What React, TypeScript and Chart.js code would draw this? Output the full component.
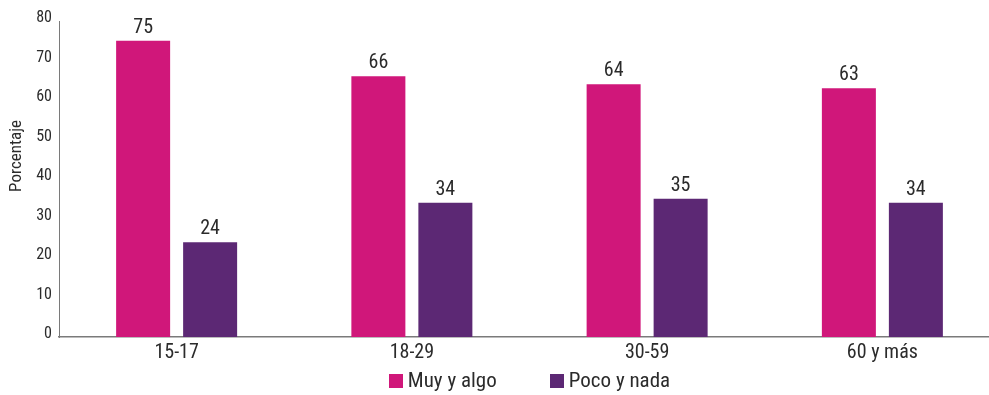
import React, { useEffect, useRef } from "react";
import { Chart, registerables } from "chart.js";

Chart.register(...registerables);

const categories = ["15-17", "18-29", "30-59", "60 y más"];
const muyYAlgo = [75, 66, 64, 63];
const pocoYNada = [24, 34, 35, 34];
const seriesNames = ["Muy y algo", "Poco y nada"];
const seriesColors = ["#D0177A", "#5C2874"];
const axisTitle = "Porcentaje";

const FONT = "'Roboto Condensed', 'Liberation Sans Narrow', 'DejaVu Sans Condensed', Roboto, sans-serif";
const TEXT = "#2b2b2b";

// Value labels above each bar
const valueLabels = {
  id: "valueLabels",
  afterDatasetsDraw(chart: any) {
    const ctx = chart.ctx;
    ctx.save();
    ctx.font = `20px ${FONT}`;
    ctx.fillStyle = TEXT;
    ctx.textAlign = "center";
    ctx.textBaseline = "alphabetic";
    chart.data.datasets.forEach((ds: any, i: number) => {
      const meta = chart.getDatasetMeta(i);
      meta.data.forEach((bar: any, j: number) => {
        ctx.fillText(String(ds.data[j]), bar.x, bar.y - 8);
      });
    });
    ctx.restore();
  },
};

// Rotated y-axis title and bottom legend
const decorations = {
  id: "decorations",
  afterDraw(chart: any) {
    const ctx = chart.ctx;
    const area = chart.chartArea;
    ctx.save();
    ctx.font = `17px ${FONT}`;
    ctx.fillStyle = TEXT;
    ctx.translate(17, 156);
    ctx.rotate(-Math.PI / 2);
    ctx.textAlign = "center";
    ctx.textBaseline = "middle";
    ctx.fillText(axisTitle, 0, 0);
    ctx.restore();

    ctx.save();
    ctx.font = `21px ${FONT}`;
    ctx.textBaseline = "middle";
    ctx.textAlign = "left";
    const box = 14;
    const gapText = 5;
    const gapItem = 53;
    const widths = seriesNames.map((n) => box + gapText + ctx.measureText(n).width);
    const total = widths.reduce((a, b) => a + b, 0) + gapItem * (widths.length - 1);
    let x = (area.left + area.right) / 2 - total / 2;
    const cy = 381;
    seriesNames.forEach((name, i) => {
      ctx.fillStyle = seriesColors[i];
      ctx.fillRect(Math.round(x), cy - box / 2, box, box);
      ctx.fillStyle = TEXT;
      ctx.fillText(name, x + box + gapText, cy + 1);
      x += widths[i] + gapItem;
    });
    ctx.restore();
  },
};

export default function App() {
  const ref = useRef<HTMLCanvasElement | null>(null);

  useEffect(() => {
    if (!ref.current) return;
    const chart = new Chart(ref.current, {
      type: "bar",
      data: {
        labels: categories,
        datasets: [
          {
            label: seriesNames[0],
            data: muyYAlgo,
            backgroundColor: seriesColors[0],
            categoryPercentage: 0.5696,
            barPercentage: 0.806,
          },
          {
            label: seriesNames[1],
            data: pocoYNada,
            backgroundColor: seriesColors[1],
            categoryPercentage: 0.5696,
            barPercentage: 0.806,
          },
        ],
      },
      options: {
        animation: false,
        responsive: false,
        maintainAspectRatio: false,
        layout: { padding: { top: 21, left: 0, right: 0, bottom: 0 } },
        plugins: {
          legend: { display: false },
          tooltip: { enabled: false },
        },
        scales: {
          x: {
            grid: { display: false, drawTicks: false },
            border: { display: true, color: "#7a7a7a", width: 1.5 },
            ticks: {
              color: TEXT,
              font: { family: FONT, size: 20 },
              padding: 4,
            },
            afterFit(scale: any) {
              scale.height = 58;
            },
          },
          y: {
            min: 0,
            max: 80,
            grid: { display: false, drawTicks: false },
            border: { display: true, color: "#7a7a7a", width: 1 },
            ticks: {
              stepSize: 10,
              color: TEXT,
              font: { family: FONT, size: 16 },
              padding: 7,
              labelOffset: -3,
            },
            afterFit(scale: any) {
              scale.width = 59;
            },
          },
        },
      },
      plugins: [valueLabels, decorations],
    });
    return () => chart.destroy();
  }, []);

  return (
    <div
      style={{
        position: "fixed",
        left: 0,
        top: 0,
        width: 989,
        height: 395,
        overflow: "hidden",
        background: "#fff",
      }}
    >
      <canvas ref={ref} width={1000} height={395} style={{ display: "block" }} />
    </div>
  );
}
